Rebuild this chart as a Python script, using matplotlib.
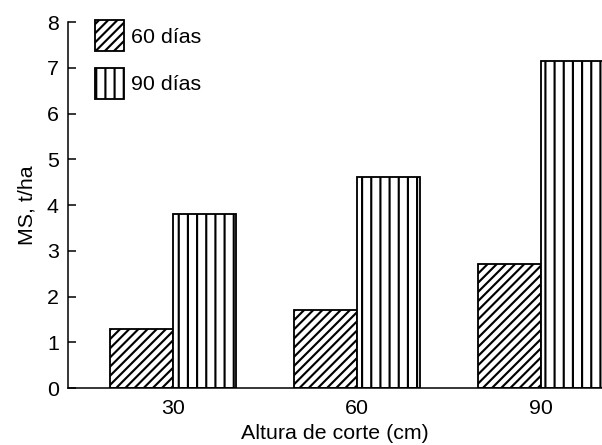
import matplotlib
matplotlib.use("Agg")
import matplotlib.pyplot as plt
import numpy as np

categories = ["30", "60", "90"]
series_names = ["60 días", "90 días"]
values_60 = [1.3, 1.7, 2.7]
values_90 = [3.8, 4.62, 7.15]
y_ticks = [0, 1, 2, 3, 4, 5, 6, 7, 8]

DPI = 110
plt.rcParams['font.family'] = ['Liberation Sans', 'DejaVu Sans']
plt.rcParams['hatch.linewidth'] = 1.4
plt.rcParams['hatch.color'] = 'black'
FS = 14

fig = plt.figure(figsize=(602 / DPI, 445 / DPI), dpi=DPI)
ax = fig.add_axes([68 / 602, 57 / 445, 1 - 68 / 602, (388 - 22) / 445])

x = np.arange(len(categories))
w = 0.34
ax.bar(x - w / 2, values_60, width=w, facecolor='white', edgecolor='black',
       hatch='////', linewidth=1.2, label=series_names[0])
ax.bar(x + w / 2, values_90, width=w, facecolor='white', edgecolor='black',
       hatch='||', linewidth=1.2, label=series_names[1])

ax.set_xlim(-0.571, 2.332)
ax.set_ylim(0, 8)
ax.set_xticks(x)
ax.set_xticklabels(categories, fontsize=FS)
ax.set_yticks(y_ticks)
ax.set_yticklabels([str(t) for t in y_ticks], fontsize=FS)
ax.tick_params(axis='y', direction='in', length=5, width=1, pad=6)
ax.tick_params(axis='x', length=0, pad=7.5)

for s in ['top', 'right']:
    ax.spines[s].set_visible(False)
for s in ['left', 'bottom']:
    ax.spines[s].set_linewidth(1.0)

ax.set_ylabel("MS, t/ha", fontsize=FS, labelpad=7)
ax.set_xlabel("Altura de corte (cm)", fontsize=FS, labelpad=3.5)

ax.legend(loc='upper left', bbox_to_anchor=(0.0506, 1.005), frameon=False,
          fontsize=FS, handlelength=1.36, handleheight=1.85, labelspacing=0.78,
          handletextpad=0.3, borderpad=0, borderaxespad=0)

fig.savefig("out.png", dpi=DPI)
